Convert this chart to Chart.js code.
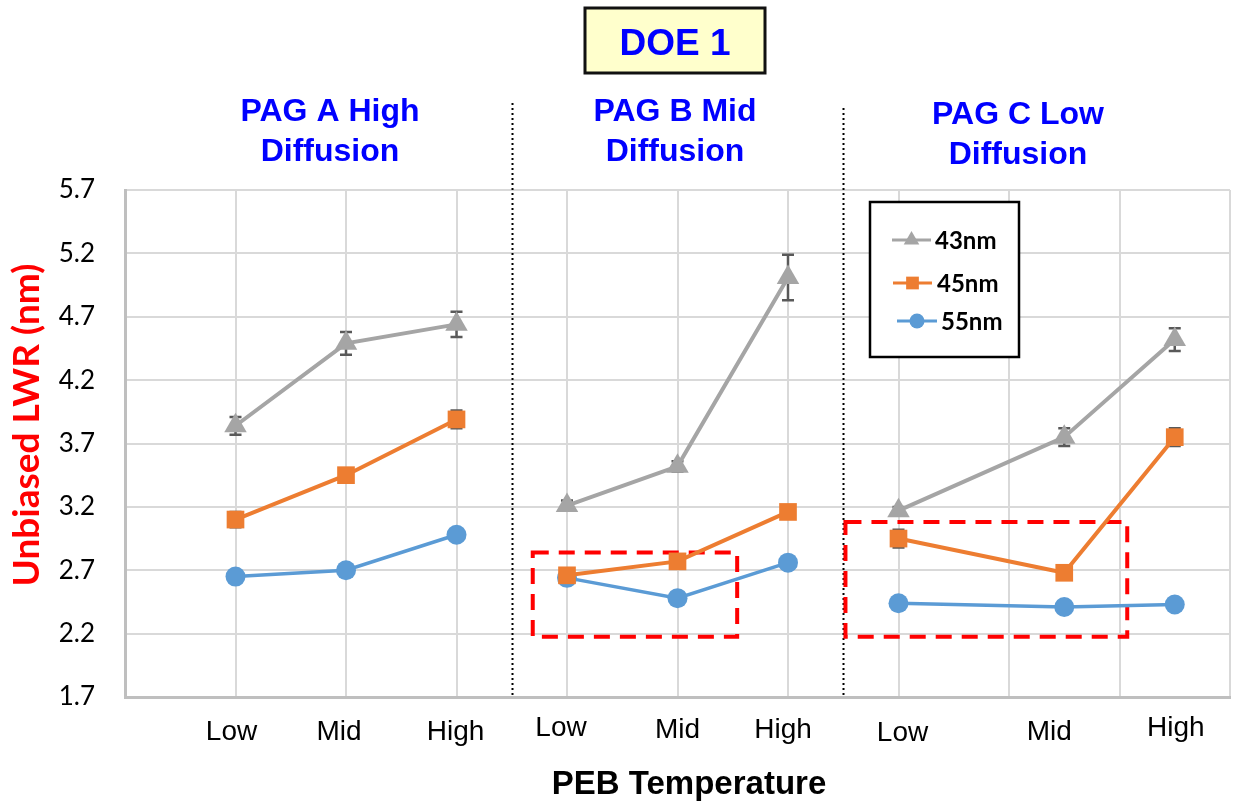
<!DOCTYPE html>
<html>
<head>
<meta charset="utf-8">
<script src="https://cdn.jsdelivr.net/npm/chart.js@4.4.1/dist/chart.umd.min.js"></script>
<style>
    html, body { margin: 0; padding: 0; background: #fff; }
    canvas { display: block; }
</style>
</head>
<body>
<canvas id="doeChart" width="1243" height="808"></canvas>
<script>
// ---- data ----
const categories = ['Low', 'Mid', 'High', 'Low', 'Mid', 'High', 'Low', 'Mid', 'High'];
const xPositions = [1, 2, 3, 4, 5, 6, 7, 8.5, 9.5];   // category slots on the PEB axis
const panelIndex = [0, 0, 0, 1, 1, 1, 2, 2, 2];
const panelTitles = [['PAG A High', 'Diffusion'], ['PAG B Mid', 'Diffusion'], ['PAG C Low', 'Diffusion']];
const seriesNames = ['43nm', '45nm', '55nm'];
const lwr43 = [3.84, 4.49, 4.64, 3.21, 3.52, 5.01, 3.17, 3.75, 4.52];
const lwr45 = [3.10, 3.45, 3.89, 2.66, 2.77, 3.16, 2.95, 2.68, 3.75];
const lwr55 = [2.65, 2.70, 2.98, 2.64, 2.48, 2.76, 2.44, 2.41, 2.43];
const err43 = [0.07, 0.09, 0.10, 0.04, 0.04, 0.18, 0.03, 0.07, 0.09];
const err45 = [0.06, 0.04, 0.07, 0.03, 0.03, 0.04, 0.07, 0.03, 0.07];
const err55 = [0.02, 0.02, 0.02, 0.02, 0.02, 0.02, 0.02, 0.02, 0.02];
const yTicks = [1.7, 2.2, 2.7, 3.2, 3.7, 4.2, 4.7, 5.2, 5.7];
const panelSeparators = [3.5, 6.5];
// highlighted regions [xMin, xMax, yMin, yMax] in data units
const highlightBoxes = [[3.69, 5.54, 2.175, 2.84], [6.52, 9.07, 2.175, 3.08]];

// ---- style ----
const colors = ['#a5a5a5', '#ed7d31', '#5b9bd5'];
const pointStyles = ['triangle', 'rect', 'circle'];
const pointRadii = [13, 12.5, 10];
const lineWidths = [4, 4, 3.5];
const labelDx = [-4, -7, -1, -6, 0, -5, 4, -15, 1];
const labelDy = [0, 0, 0, -4, -2, -2, 1, 0, -4];
const titleCenters = [330, 675, 1018];
const titleDy = [0, 0, 3];
const sepTops = [103, 108];
const sansFont = "'Liberation Sans', Arial, sans-serif";

const seriesValues = [lwr43, lwr45, lwr55];
const seriesErrors = [err43, err45, err55];

const datasets = seriesNames.map((name, s) => ({
    label: name,
    data: xPositions.map((x, i) => ({ x: x, y: seriesValues[s][i] })),
    borderColor: colors[s],
    backgroundColor: colors[s],
    borderWidth: lineWidths[s],
    pointStyle: pointStyles[s],
    pointRadius: pointRadii[s],
    pointBorderWidth: 0,
    pointBackgroundColor: colors[s],
    tension: 0,
    segment: {
        borderColor: ctx => panelIndex[ctx.p0DataIndex] !== panelIndex[ctx.p1DataIndex] ? 'rgba(0,0,0,0)' : colors[s]
    }
}));

function drawMarker(ctx, style, x, y, r, color) {
    ctx.fillStyle = color;
    ctx.beginPath();
    if (style === 'triangle') {
        ctx.moveTo(x, y - r);
        ctx.lineTo(x + r * 0.866, y + r * 0.5);
        ctx.lineTo(x - r * 0.866, y + r * 0.5);
        ctx.closePath();
    } else if (style === 'rect') {
        const h = r * Math.SQRT1_2;
        ctx.rect(x - h, y - h, h * 2, h * 2);
    } else {
        ctx.arc(x, y, r, 0, Math.PI * 2);
    }
    ctx.fill();
}

const decorPlugin = {
    id: 'doeDecor',
    beforeDatasetsDraw(chart) {
        const { ctx, scales: { x, y }, chartArea } = chart;
        ctx.save();
        // panel separators
        ctx.strokeStyle = '#000';
        ctx.lineWidth = 2;
        ctx.setLineDash([2, 3]);
        panelSeparators.forEach((v, k) => {
            const px = Math.round(x.getPixelForValue(v)) + 0.5;
            ctx.beginPath();
            ctx.moveTo(px, sepTops[k]);
            ctx.lineTo(px, chartArea.bottom);
            ctx.stroke();
        });
        // highlighted regions
        ctx.strokeStyle = '#ff0000';
        ctx.lineWidth = 4;
        ctx.setLineDash([16, 10]);
        highlightBoxes.forEach(b => {
            const x0 = x.getPixelForValue(b[0]), x1 = x.getPixelForValue(b[1]);
            const y0 = y.getPixelForValue(b[3]), y1 = y.getPixelForValue(b[2]);
            ctx.strokeRect(x0, y0, x1 - x0, y1 - y0);
        });
        // error bars
        ctx.setLineDash([]);
        ctx.strokeStyle = '#595959';
        ctx.lineWidth = 2.5;
        seriesValues.forEach((vals, s) => {
            vals.forEach((v, i) => {
                const px = x.getPixelForValue(xPositions[i]);
                const top = y.getPixelForValue(v + seriesErrors[s][i]);
                const bot = y.getPixelForValue(v - seriesErrors[s][i]);
                ctx.beginPath();
                ctx.moveTo(px, top); ctx.lineTo(px, bot);
                ctx.moveTo(px - 6, top); ctx.lineTo(px + 6, top);
                ctx.moveTo(px - 6, bot); ctx.lineTo(px + 6, bot);
                ctx.stroke();
            });
        });
        ctx.restore();
    },
    afterDraw(chart) {
        const { ctx, scales: { x } } = chart;
        ctx.save();
        // DOE box
        ctx.fillStyle = '#ffffcc';
        ctx.fillRect(585, 8, 180, 65);
        ctx.strokeStyle = '#111';
        ctx.lineWidth = 3;
        ctx.strokeRect(585, 8, 180, 65);
        ctx.fillStyle = '#0000ff';
        ctx.textAlign = 'center';
        ctx.textBaseline = 'alphabetic';
        ctx.font = "bold 37px " + sansFont;
        ctx.fillText('DOE 1', 675, 55);
        // panel titles
        ctx.font = "bold 32px " + sansFont;
        panelTitles.forEach((t, k) => {
            ctx.fillText(t[0], titleCenters[k], 121 + titleDy[k]);
            ctx.fillText(t[1], titleCenters[k], 161 + titleDy[k]);
        });
        // category labels
        ctx.fillStyle = '#000';
        ctx.font = "28px " + sansFont;
        categories.forEach((c, i) => {
            ctx.fillText(c, x.getPixelForValue(xPositions[i]) + labelDx[i], 740 + labelDy[i]);
        });
        // axis titles
        ctx.font = "bold 33px " + sansFont;
        ctx.fillText('PEB Temperature', 689, 794);
        ctx.save();
        ctx.translate(39, 425);
        ctx.rotate(-Math.PI / 2);
        ctx.fillStyle = '#ff0000';
        ctx.font = "bold 37px Lato";
        ctx.fillText('Unbiased LWR (nm)', 0, 0);
        ctx.restore();
        // legend
        ctx.fillStyle = '#fff';
        ctx.fillRect(870, 202, 149, 155);
        ctx.strokeStyle = '#000';
        ctx.lineWidth = 2.5;
        ctx.strokeRect(870, 202, 149, 155);
        const legendRows = [[892, 931, 240, 935], [893, 932, 283, 937], [897, 937, 321, 941]];
        const legendRadii = [9, 9, 7.5];
        ctx.textAlign = 'left';
        ctx.textBaseline = 'middle';
        ctx.font = "bold 24px Lato";
        seriesNames.forEach((name, s) => {
            const r = legendRows[s];
            ctx.strokeStyle = colors[s];
            ctx.lineWidth = 3;
            ctx.beginPath();
            ctx.moveTo(r[0], r[2]); ctx.lineTo(r[1], r[2]);
            ctx.stroke();
            drawMarker(ctx, pointStyles[s], (r[0] + r[1]) / 2, r[2], legendRadii[s], colors[s]);
            ctx.fillStyle = '#000';
            ctx.fillText(name, r[3], r[2] + 1);
        });
        ctx.restore();
    }
};

new Chart(document.getElementById('doeChart'), {
    type: 'line',
    data: { datasets: datasets },
    options: {
        responsive: false,
        animation: false,
        layout: { padding: { top: 190, bottom: 111, left: 0, right: 9 } },
        plugins: { legend: { display: false }, tooltip: { enabled: false } },
        scales: {
            x: {
                type: 'linear',
                min: 0,
                max: 10,
                ticks: { display: false, stepSize: 1 },
                grid: { color: '#d9d9d9', lineWidth: 2, drawTicks: false },
                border: { color: '#bfbfbf', width: 3 },
                afterFit: scale => { scale.height = 0; }
            },
            y: {
                min: 1.7,
                max: 5.7,
                afterBuildTicks: scale => { scale.ticks = yTicks.map(v => ({ value: v })); },
                ticks: {
                    padding: 30,
                    color: '#000',
                    font: { family: 'Lato', size: 26 },
                    callback: v => Number(v).toFixed(1)
                },
                grid: { color: '#d9d9d9', lineWidth: 2, drawTicks: false },
                border: { color: '#bfbfbf', width: 3 },
                afterFit: scale => { scale.width = 125; }
            }
        }
    },
    plugins: [decorPlugin]
});
</script>
</body>
</html>
